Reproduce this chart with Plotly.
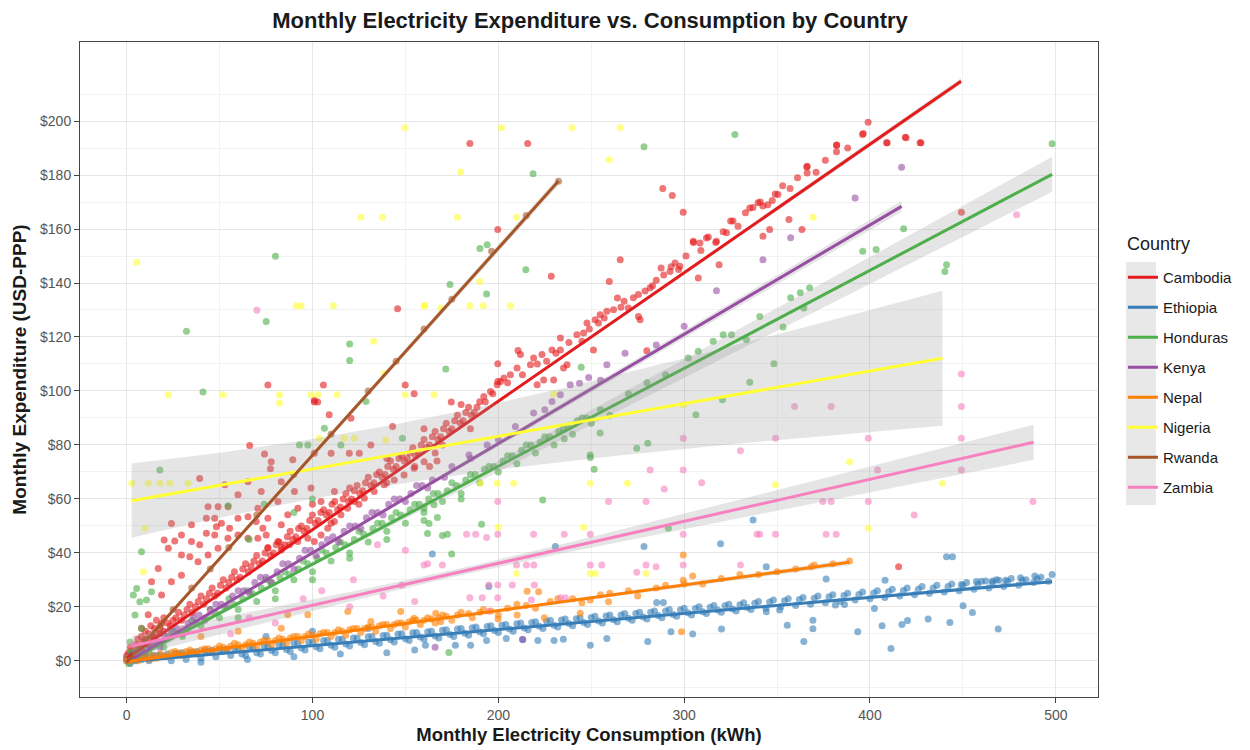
import numpy as np
import plotly.graph_objects as go

# ---------------------------------------------------------------------------
# Data: monthly consumption (kWh) vs expenditure (USD-PPP), one list per country
# ---------------------------------------------------------------------------
countries = ["Cambodia", "Ethiopia", "Honduras", "Kenya", "Nepal", "Nigeria", "Rwanda", "Zambia"]
colors = ["#E41A1C", "#377EB8", "#4DAF4A", "#984EA3", "#FF7F00", "#FFFF33", "#A65628", "#F781BF"]

cambodia_pts = [
    (0, 2), (0.5, 0.5), (1, 3), (2, 1), (2, 5), (3, 4), (4, 2), (5, 6), (5, 3), (6, 8), (7, 5), (8, 4), (8, 9),
    (9, 7), (10, 6), (10, 11), (11, 8), (12, 10), (12, 6), (13, 13), (14, 9), (15, 8), (15, 12), (16, 15),
    (17, 10), (18, 12), (19, 14), (20, 11), (20, 16),
    (22, 14), (25, 15), (28, 18), (31, 17), (34, 21), (37, 20), (40, 24), (43, 23), (46, 27), (49, 25), (52, 30),
    (55, 29), (58, 33), (61, 31), (64, 36), (67, 35), (70, 39), (73, 37), (76, 42), (79, 40), (82, 44), (85, 43),
    (88, 48), (91, 46), (94, 50), (97, 49), (100, 54), (103, 52), (106, 56), (109, 55), (112, 59), (115, 57),
    (118, 62), (121, 60), (124, 65), (127, 63), (130, 68), (133, 66), (136, 70), (139, 69), (142, 74), (145, 72),
    (148, 76), (151, 75), (154, 79), (157, 77), (160, 82), (163, 80), (166, 85), (169, 83), (172, 88), (175, 86),
    (178, 91), (181, 89), (184, 94), (187, 92), (190, 96),
    (6, 5), (10, 7), (14, 9), (18, 10), (23.5, 13), (26.5, 16), (29.5, 15), (32.5, 19), (35.5, 18), (38.5, 22),
    (41.5, 21), (44.5, 25), (47.5, 24), (50.5, 28), (53.5, 27), (56.5, 31), (59.5, 30), (62.5, 34), (65.5, 33),
    (68.5, 37), (71.5, 36), (74.5, 40), (77.5, 39), (80.5, 43), (83.5, 42), (86.5, 46), (89.5, 45), (92.5, 49),
    (95.5, 48), (98.5, 52), (101.5, 51), (104.5, 55), (107.5, 54), (110.5, 58), (113.5, 56), (116.5, 60),
    (119.5, 59), (122.5, 63), (125.5, 62), (128.5, 66), (131.5, 65), (134.5, 69), (137.5, 68), (140.5, 72),
    (143.5, 71), (146.5, 75), (149.5, 74), (152.5, 77), (155.5, 76), (158.5, 80), (161.5, 79), (164.5, 83),
    (167.5, 82), (170.5, 86), (173.5, 85), (176.5, 89), (179.5, 88), (182.5, 92), (185.5, 91), (188.5, 94),
    (193, 96), (197, 99), (205, 103), (213, 106), (221, 110), (226, 111), (231, 114), (238, 118), (249, 123),
    (257, 127), (266, 131), (279, 137), (283, 139),
    (110, 51), (125, 58), (140, 66), (155, 72), (170, 80), (185, 86), (100, 58), (120, 64), (140, 75), (160, 86),
    (180, 95),
    (192.2, 97.9), (195.8, 99.8), (199.4, 102.3), (201.2, 103.5), (203, 104.8), (206.5, 106), (210.1, 108.5),
    (217.3, 109.7), (211.9, 113.5), (219, 112.2), (223.5, 113.5), (228.9, 115.2), (233.4, 115.2), (233.4, 119.6),
    (242.3, 120.8), (245.9, 121.5), (245, 118.4), (247.7, 125.2), (252.1, 126.4), (253.9, 125.2), (254.8, 128.2),
    (258.4, 129.5), (262, 130.1), (264.1, 134.4), (267.7, 133.2), (270, 130.7), (272.7, 134.5), (275.4, 135.7),
    (275.4, 127.6), (276.3, 126.4), (281.7, 138.2), (237, 109.7), (235.1, 108.5), (220.9, 102.3), (224.4, 104.1),
    (229.8, 104.1), (210.6, 115), (199.7, 110.1), (199.7, 103.5), (251.2, 115.2), (279.9, 114.9),
    (285, 141), (289, 143), (293, 146), (297, 145), (301, 150), (305, 155), (309, 152), (313, 157), (317, 155),
    (321, 159), (325, 163), (329, 161), (333, 166), (337, 168), (341, 170), (345, 169), (349, 173), (353, 176),
    (357, 175), (361, 179), (366, 183), (371, 181), (376, 185.5), (382, 191), (382, 188.6), (388, 190), (396, 195),
    (399, 199.6), (409, 192), (419, 194), (427, 192),
    (304.9, 155.5), (308.5, 154.8), (312, 156.7), (317.4, 155.5), (322.8, 158.6), (326.3, 163), (335.3, 167.8),
    (339.8, 169.7), (342.4, 168.5), (347.4, 170.6), (350.5, 172.8), (356.4, 163.5), (346, 159.8), (342.4, 157.3),
    (363.4, 159.8), (366.2, 183.3), (366.2, 180.8),
    (20.2, 44.8), (25.9, 44.4), (34.9, 44.2), (29.5, 39.2), (34, 38.6), (39.3, 43), (42.9, 47.3), (48.3, 49.7),
    (51, 51), (55.4, 49.1), (59.9, 52.8), (65.3, 53.4), (69.7, 51.6), (73.3, 49.1), (54.5, 45.4), (59.9, 46.6),
    (65.3, 45.4), (70.6, 45.4), (75.1, 46.6), (76, 41.7), (81.4, 44.2), (83.2, 41.1), (87.6, 43), (92.1, 44.2),
    (97.5, 45.4), (101, 44.2), (104.6, 46.6), (108.2, 49.1), (111.8, 51.6), (115.3, 54.1), (118.9, 56.5),
    (122.5, 59), (127.9, 60.2), (133.2, 62.7), (138.6, 65.2), (144, 67), (149.3, 68.9), (154.7, 71.4),
    (160.1, 73.8),
    (72.4, 62.7), (83.2, 66.4), (90.3, 62.7), (99.2, 64), (104.6, 59), (111.8, 62.7), (86.7, 54.1), (92.1, 56.5),
    (81.4, 59), (70.6, 56.5), (76, 52.8), (83.2, 50.4), (59.9, 61.5), (65.3, 66.4), (52.8, 65.2), (47.4, 46.6),
    (34.9, 50.4), (29.5, 46.6), (22.4, 41.7), (17, 34.2), (13.4, 29.3), (24.1, 29.3), (29.5, 31.7), (18.8, 24.4),
    (11.6, 17.1), (8, 12.1), (38.4, 36.7), (43.8, 39.2), (49.2, 41.7),
    (39.3, 67.6), (24.1, 50.9), (43.8, 57.1), (49.2, 57.1), (54.6, 57.1), (42.9, 52.8), (47.4, 52.8),
    (66.2, 79.8), (74.2, 76.6), (77.8, 73.8), (77.4, 71.2), (89.4, 74.5), (101, 76.9), (110, 76.9), (119.8, 76.9),
    (125.2, 76.9), (131.4, 80), (109, 91.2), (120.7, 89.9), (143.1, 86.8), (101, 95.9), (102.8, 95.9),
    (101, 96.6), (76, 102.2), (105.9, 102.2), (149.9, 102.2), (154.7, 99), (145.8, 130.5), (174.7, 95.9),
    (163, 72), (166, 77), (167, 74),
    (184.7, 191.7), (215.8, 191.7), (288.5, 175), (293.6, 172.4), (299.5, 166.2), (199.7, 159.8), (265.6, 148.6),
    (287.6, 145.6), (292.4, 144.3), (295.1, 147.4), (297.7, 146.2), (307.6, 141.9), (318.8, 146.8),
    (228.5, 142.5), (259.7, 140.6), (409.2, 192), (419.4, 193.8), (427.4, 192), (396.4, 195.4), (382.1, 191.1),
    (449.2, 166.2), (415.4, 34.9),
]

ethiopia_pts = [
    (0, 0), (1, 1), (2, -1), (3, 0.5), (4, 2), (5, 0), (6, 1), (8, 0.5), (10, 1.5), (12, 0), (14, 1), (16, 2),
    (20, 1.5), (24, 0), (28, 2.5), (32, 0.5), (36, 3), (40, 1), (44, 3.5), (48, 1.5), (52, 4), (56, 2), (60, 4.5),
    (64, 2), (68, 5), (72, 2.5), (76, 5.5), (80, 3), (84, 6), (88, 3.5), (92, 6.5), (96, 4), (100, 7), (104, 4.5),
    (108, 7.5), (112, 5), (116, 8), (120, 5.5), (124, 8.5), (128, 6), (132, 9), (136, 6.5), (140, 9.5), (144, 7),
    (148, 10), (152, 7.5), (156, 10.5), (160, 8), (164, 11), (168, 8.5), (172, 11.5), (176, 9), (180, 12),
    (184, 9.5), (188, 12.5), (192, 10), (196, 13), (200, 10.5), (204, 13.5), (208, 11), (212, 14), (216, 11.5),
    (220, 14.5), (224, 12), (228, 15), (232, 12.5), (236, 15.5), (240, 13), (244, 16), (248, 13.5), (252, 16.5),
    (256, 14), (260, 17), (264, 14.5), (268, 17.5), (272, 15), (276, 18), (280, 15.5), (284, 18.5), (288, 16),
    (292, 19), (296, 16.5), (300, 19.5), (304, 17), (308, 20), (312, 17.5), (316, 20.5), (320, 18), (324, 21),
    (328, 18.5), (332, 21.5), (336, 19), (340, 22), (344, 19.5), (348, 22.5), (352, 20), (356, 23), (360, 20.5),
    (364, 23.5), (368, 21), (372, 24), (376, 21.5), (380, 24.5), (384, 22), (388, 25), (392, 22.5), (396, 25.5),
    (400, 23), (404, 26), (408, 23.5), (412, 26.5), (416, 24), (420, 27), (424, 24.5), (428, 27.5), (432, 25),
    (436, 28), (440, 25.5), (444, 28.5), (448, 26), (452, 29), (456, 26.5), (460, 29.5), (464, 27), (468, 30),
    (472, 27.5), (476, 30.5), (480, 28), (484, 30), (488, 29), (492, 31), (496, 29.5),
    (62, 2.5), (70, 3), (78, 3.8), (86, 4.2), (94, 4.8), (102, 5.2), (110, 5.8), (118, 6.2), (126, 6.8),
    (134, 7.2), (142, 7.8), (150, 8.2), (158, 8.8), (166, 9.2), (174, 9.8), (182, 10.2), (190, 10.8),
    (198, 11.2), (206, 11.8), (214, 12.2), (222, 12.8), (230, 13.2), (238, 13.8), (246, 14.2), (254, 14.8),
    (262, 15.2), (270, 15.8), (278, 16.2), (286, 16.8), (294, 17.2), (302, 17.8), (310, 18.2), (318, 18.8),
    (326, 19.2), (334, 19.8),
    (2, 1.3), (6, 1.6), (10, 1.8), (14, 2), (18, 2.3), (22, 2.5), (26, 2.7), (30, 3), (34, 3.2), (38, 3.5),
    (42, 3.7), (46, 3.9), (50, 4.2), (54, 4.4), (58, 4.7), (66, 5.1), (74, 5.6), (82, 6.1), (90, 6.6), (98, 7),
    (106, 7.5), (114, 8), (122, 8.5), (130, 8.9), (138, 9.4), (146, 9.9), (154, 10.4), (162, 10.8), (170, 11.3),
    (178, 11.8), (186, 12.3), (194, 12.7), (202, 13.2), (210, 13.7), (218, 14.2), (226, 14.6), (234, 15.1),
    (242, 15.6), (250, 16.1), (258, 16.6), (266, 17), (274, 17.5), (282, 18), (290, 18.5), (298, 18.9),
    (306, 19.4), (314, 19.9), (322, 20.4), (330, 20.8), (338, 21.3), (346, 21.8), (354, 22.3), (362, 22.7),
    (370, 23.2), (378, 23.7), (386, 24.2), (394, 24.6), (402, 25.1), (410, 25.6), (418, 26.1), (426, 26.5),
    (434, 27), (442, 27.5), (450, 28), (458, 28.4), (466, 28.9), (474, 29.4), (482, 29.9), (490, 30.4),
    (230.7, 42.4), (278.4, 42.4), (319.6, 43.4), (337.1, 52.2), (164.5, 39.6), (344.2, 34.9), (441.2, 38.6),
    (444.4, 38.6), (376.4, 30.3), (408.1, 29.9), (194.9, 27.5), (285.2, 21.6), (288.8, 21.6), (481, 30.8),
    (488.7, 31.4), (498, 32), (457.3, 29.4), (462.3, 29.6), (465.9, 29.6), (469.4, 29.9), (473, 29.9),
    (449.2, 28.3),
    (185.1, 5.8), (249.5, 5.8), (280.4, 7.2), (258.4, 8.3), (230, 7.5), (235, 8), (221.3, 7.5), (213.2, 7.8),
    (204.3, 8.3), (193.7, 7.5), (176.9, 5.8), (160.8, 5.8), (292.9, 10.8), (304.6, 9.9), (320.1, 11.8),
    (344.2, 18.2), (351.4, 18.8), (355.5, 13.2), (369.3, 15), (369.3, 11.9), (364.4, 7.2), (381.4, 20.7),
    (386.3, 20.9), (393.4, 10.8), (402.4, 19.4), (406.5, 13), (411.3, 4.6), (417.2, 13.5), (420.2, 14.9),
    (431.3, 15.5), (443, 14.2), (450.1, 20.4), (455.1, 17.9), (469, 11.8), (40, -0.5), (65, 0.5), (90, 1.5),
    (115, 2.5), (140, 3), (155, 4), (130, 12), (100, 11), (75, 9),
]

honduras_pts = [
    (0, 1), (1, -1), (2, 3), (3, 0), (3.6, 24.4), (4.5, 17), (7.1, 21.9), (8, 12), (1.8, 7), (2.7, 3.3),
    (5.4, 26.8), (10.7, 22.5), (13.4, 25.6), (5, 2), (6, 4), (8, 2), (10, 5), (12, 3),
    (15, 7), (20, 5), (25, 11), (30, 9), (35, 15), (40, 13), (45, 19), (50, 16), (55, 23), (60, 19), (65, 26),
    (70, 22), (75, 30), (80, 26), (85, 33), (90, 30), (95, 37), (100, 33), (105, 41), (110, 37), (115, 44),
    (120, 40), (125, 48), (130, 44), (135, 51), (140, 48), (145, 55), (150, 51), (155, 58), (160, 55), (165, 62),
    (170, 59), (175, 66), (180, 62), (185, 69), (190, 66), (195, 72), (200, 70), (205, 76), (210, 73), (215, 80),
    (220, 77), (225, 83), (230, 80), (235, 86), (240, 84), (245, 90), (250, 88), (255, 93), (260, 91), (270, 99),
    (280, 103), (290, 106),
    (17.5, 7), (22.5, 9), (27.5, 10), (32.5, 12), (37.5, 14), (42.5, 16), (47.5, 18), (52.5, 20), (57.5, 21),
    (62.5, 23), (67.5, 25), (72.5, 27), (77.5, 29), (82.5, 31), (87.5, 32), (92.5, 34), (97.5, 36), (102.5, 38),
    (107.5, 40), (112.5, 42), (117.5, 43), (122.5, 45), (127.5, 47), (132.5, 49), (137.5, 51), (142.5, 53),
    (147.5, 54), (152.5, 56), (157.5, 58), (162.5, 60), (167.5, 62), (172.5, 63), (177.5, 65), (182.5, 67),
    (187.5, 69), (192.5, 71), (197.5, 72), (202.5, 74), (207.5, 76), (212.5, 78), (217.5, 80), (222.5, 81),
    (227.5, 83), (232.5, 85), (237.5, 87), (242.5, 89), (247.5, 90),
    (60, 16), (80, 23), (100, 30), (120, 38), (140, 45), (160, 52), (180, 60), (74, 58), (90, 55), (100, 60),
    (66, 45),
    (302.2, 112.2), (307.6, 114.7), (315.6, 118.4), (321, 120.8), (325.5, 120.8), (333.5, 119), (340.7, 127.6),
    (80.1, 149.9), (75.1, 125.7), (32.2, 122.1), (120, 117.4), (120, 111.3), (41.1, 99.6), (106.4, 86.2),
    (128.8, 96.1), (93, 80), (97.5, 80), (115.3, 80), (148.4, 82.5), (17.9, 70.7), (54.6, 57.5), (8, 40.4),
    (327.3, 195), (278.4, 190.5), (218.7, 180.5), (190.1, 152.8), (194, 154.2), (174, 139.4), (193.7, 135.9),
    (214.8, 144.9), (244.6, 108.8), (335.3, 103.2), (171.7, 108.1), (498, 191.6), (441.2, 146.8), (440.3, 144.3),
    (418.1, 160.1), (396.1, 151.8), (403.3, 152.4), (367.5, 138.2), (362.5, 136.4), (357.3, 134.5),
    (364.4, 130.7), (353.2, 123.7), (348.3, 110.1), (320.6, 96.7), (306.3, 91.2), (280.4, 80.6), (274.5, 78.8),
    (254.8, 84.4), (235.5, 82.3), (249.5, 76.3), (249.5, 75.3), (251.6, 71), (223.9, 59.6), (191, 50.6),
    (291.5, 49.1), (174.9, 39.6), (173.4, 3.1),
    (160, 56.5), (165.4, 57.8), (162.7, 50.9), (167.2, 53.1), (161.9, 47.2), (169.9, 46.4), (172.6, 46.9),
]

kenya_pts = [
    (0, 1), (1, 0), (2, 2), (3, 1), (4, 3), (6, 2), (8, 4), (10, 3),
    (12, 6), (18, 5), (24, 11), (30, 10), (36, 16), (42, 15), (48, 21), (54, 20), (60, 26), (66, 25), (72, 31),
    (78, 29), (84, 36), (90, 34), (96, 41), (102, 39), (108, 45), (114, 44), (120, 50), (126, 49), (132, 55),
    (138, 54), (144, 60), (150, 59), (156, 65), (162, 64),
    (15, 7), (21, 9), (27, 12), (33, 14), (39, 17), (45, 19), (51, 21), (57, 24), (63, 26), (69, 29), (75, 31),
    (81, 33), (87, 36), (93, 38), (99, 41), (105, 43), (111, 46), (117, 48), (123, 50), (129, 53), (135, 55),
    (141, 58), (147, 60), (153, 62), (159, 65), (175, 72), (185, 75), (200, 82), (225, 93), (255, 104),
    (285, 117), (300, 124),
    (164.5, 67), (171, 68), (184.2, 76.3), (194, 80), (209.2, 86.8), (219, 91.8), (228.9, 96.1), (233.4, 98.6),
    (238.7, 102.3), (243.7, 102.9), (248.6, 105), (258.4, 109.7), (268.2, 114), (317.4, 137.1), (342.4, 148.6),
    (357.3, 156.8), (392, 171.5), (417, 182.9), (166, 5), (213, 8),
]

nepal_pts = [
    (0, 0), (1, 1), (2, 0), (3, 1), (4, 0.5), (5, 1.5), (6, 0), (8, 1), (10, 1.5), (12, 0.5), (14, 2), (16, 1),
    (18, 2.5), (22, 1.5), (26, 3.5), (30, 2), (34, 4), (38, 2.5), (42, 4.5), (46, 3), (50, 5.5), (54, 4),
    (58, 6.5), (62, 4.5), (66, 7), (70, 5), (74, 7.5), (78, 6), (82, 8.5), (86, 6.5), (90, 9), (94, 7.5),
    (98, 10), (102, 8), (106, 10.5), (110, 9), (114, 11.5), (118, 9.5), (122, 12), (126, 10.5), (130, 12.5),
    (134, 11), (138, 13.5), (142, 12), (146, 14), (150, 12.5), (154, 15), (158, 13.5), (162, 16), (166, 14),
    (170, 17), (175, 15), (180, 18), (186, 16), (192, 19), (200, 17), (210, 21), (220, 19.5), (232, 23),
    (245, 21.5), (260, 25), (275, 24), (290, 28), (310, 28.5), (330, 32), (350, 33), (370, 35.5), (389, 37),
    (20, 2), (24, 3), (28, 3), (32, 3.5), (36, 3.5), (40, 4), (44, 4.5), (48, 4.5), (52, 5), (56, 5.5), (60, 6),
    (64, 6), (68, 6.5), (72, 7), (76, 7.5), (80, 7.5), (84, 8), (88, 8.5), (92, 9), (96, 9), (100, 9.5),
    (104, 10), (108, 10.5), (112, 10.5), (116, 11), (120, 11.5), (124, 12), (128, 12), (132, 12.5), (136, 13),
    (140, 13.5), (144, 13.5), (148, 14), (152, 14.5), (156, 15), (160, 15), (164, 15.5), (168, 16), (172, 16.5),
    (178, 17), (184, 17.5), (190, 18), (196, 18.5), (205, 19.5), (215, 20.5), (228, 22), (240, 23), (255, 24.5),
    (270, 26), (285, 27), (300, 28.5), (320, 30.5), (340, 32), (360, 34), (380, 36),
    (299.5, 39.2), (299.5, 29.9), (304.6, 31.4), (215.5, 25.8), (221.7, 25.6), (249.5, 22.5), (259.3, 21.9),
    (166.3, 17.6), (169, 14.5), (199.9, 15.5), (210.1, 17), (224.8, 16), (244.1, 17.6), (298.6, 10.8),
    (368.4, 34.9), (119, 18.3), (131.4, 14.6), (147.5, 18.3), (154.7, 15.8), (97.5, 17.1), (83.2, 12.1),
    (86.7, 17.1), (40, 9), (60, 11),
]

nigeria_pts = [
    (149.8, 197.5), (126, 164.4), (137.7, 164.4), (5.4, 147.7), (91.2, 131.6), (93.9, 131.6), (111.2, 131.6),
    (160, 131.6), (132.9, 118.4), (138.6, 106.6), (22.4, 98.6), (51.9, 98.6), (82.3, 98.6), (99.2, 98.6),
    (102.8, 98.6), (113.2, 98.6), (149.9, 98.6), (82.3, 95.5), (103.7, 82.5), (117.1, 82.5), (122.5, 82.5),
    (139.5, 81.8), (2.7, 65.8), (11.6, 65.8), (17.9, 65.8), (23.2, 65.8), (33.1, 65.8), (9.8, 49.1), (9, 33),
    (201.7, 197.5), (239.6, 197.5), (265.6, 197.5), (259.7, 185.7), (179.7, 181.1), (178, 164.4),
    (209.8, 164.4), (190, 140.6), (184.7, 131.6), (191.9, 131.6), (206.5, 131.6), (160.4, 131.6), (169, 130.7),
    (165.4, 98.6), (229.8, 98.9), (299.5, 94.8), (249.5, 65.8), (269.5, 65.8), (190.5, 65.8), (199.4, 65.8),
    (208.3, 65.8), (199.9, 49.5), (245.9, 49.5), (209.8, 32.4), (249.5, 32.4), (252.1, 32.4), (279.5, 32.4),
    (389, 73.8), (349.2, 65.2), (439, 65.8), (399.1, 49.1), (369.3, 164.4),
]

rwanda_pts = [
    (3, 2), (10, 8), (18, 13), (25, 19), (35, 27), (45, 34), (55, 42), (70, 54), (90, 69), (110, 84), (130, 100),
    (145, 111), (160, 123), (175, 134), (196.4, 151.8), (215, 165), (232.4, 177.7),
]

zambia_pts = [
    (70.1, 129.9), (299.5, 82.5), (330.3, 77.8), (281.7, 70.7), (299.5, 70.7), (309.4, 66), (289.3, 63.7),
    (199.7, 59), (259.3, 59), (279.5, 59), (182.9, 46.9), (187.8, 46.9), (193.7, 45.7), (199.7, 46.9), (219, 46.9),
    (235.5, 46.9), (249.5, 46.9), (299.5, 46.9), (339.2, 46.9), (160, 35.5), (169.9, 35.5), (209.8, 35.5),
    (215.1, 35.5), (219.1, 35.5), (249.5, 35.5), (255.7, 35.5), (279.5, 35.5), (284.9, 34.9), (299.5, 35.5),
    (330.3, 35.5), (274.5, 32.8), (194.9, 28.1), (199.7, 28.1), (207.5, 28.1), (219.4, 28.1), (184.7, 23.4),
    (191.3, 23.4), (199.7, 23.4), (217.8, 22.5), (233.4, 23.4), (236.1, 23.4), (194.9, 18.4), (359.4, 94.2),
    (379.1, 94.2), (449.2, 94.2), (349.2, 82.5), (399.1, 82.5), (449.2, 82.5), (404.1, 70.7), (449.2, 70.7),
    (374.6, 59), (379.1, 59), (399.1, 59), (487.7, 59), (423.8, 54), (340.7, 46.9), (349.2, 46.9), (376.4, 46.9),
    (381.8, 46.9), (478.9, 165.3), (449.2, 106.3),
    (3, 6), (56, 10), (80, 14), (95, 23), (120, 20), (138, 24), (148, 28), (155, 22), (150, 41), (162, 36),
    (135, 43), (122, 30), (45, 18), (30, 12), (66, 16), (105, 26),
]

points = [cambodia_pts, ethiopia_pts, honduras_pts, kenya_pts, nepal_pts, nigeria_pts, rwanda_pts, zambia_pts]

# Linear fits per country: intercept, slope and the x-span each fit covers
fit_intercept = [1.0, -0.3, -0.5, -0.5, -0.3, 59.0, -0.5, 5.0]
fit_slope = [0.476, 0.0595, 0.363, 0.405, 0.0946, 0.121, 0.767, 0.1557]
fit_xmin = [0, 0, 0, 0, 0, 2.7, 0, 3]
fit_xmax = [449, 498, 498, 417, 389, 439, 232.4, 488]
# 95% confidence band: x where it is narrowest, half-width there, half-width at the right end
band_xbar = [100, 180, 90, 80, 60, 120, 40, 180]
band_hw_min = [0.3, 0.15, 0.6, 0.5, 0.2, 11.0, 0.6, 1.3]
band_hw_end = [1.2, 0.5, 6.5, 2.0, 1.0, 25.0, 1.5, 6.5]

y_ticks = [0, 20, 40, 60, 80, 100, 120, 140, 160, 180, 200]
x_ticks = [0, 100, 200, 300, 400, 500]

FONT = "Liberation Sans, Arial, sans-serif"

fig = go.Figure()

# points layer
for name, col, pts in zip(countries, colors, points):
    xs, ys = zip(*pts)
    fig.add_trace(go.Scatter(
        x=xs, y=ys, mode="markers", name=name, legendgroup=name, showlegend=False,
        marker=dict(color=col, size=7, opacity=0.6, line=dict(width=0)),
    ))

# smoother layer: band then line, group by group
for i, (name, col) in enumerate(zip(countries, colors)):
    xs = np.linspace(fit_xmin[i], fit_xmax[i], 80)
    fit = fit_intercept[i] + fit_slope[i] * xs
    b = (band_hw_end[i] ** 2 - band_hw_min[i] ** 2) / (fit_xmax[i] - band_xbar[i]) ** 2
    hw = np.sqrt(band_hw_min[i] ** 2 + b * (xs - band_xbar[i]) ** 2)
    fig.add_trace(go.Scatter(
        x=np.concatenate([xs, xs[::-1]]),
        y=np.concatenate([fit + hw, (fit - hw)[::-1]]),
        mode="lines", fill="toself", fillcolor="rgba(153,153,153,0.25)",
        line=dict(width=0), hoverinfo="skip", legendgroup=name, showlegend=False,
    ))
    fig.add_trace(go.Scatter(
        x=[fit_xmin[i], fit_xmax[i]],
        y=[fit_intercept[i] + fit_slope[i] * fit_xmin[i], fit_intercept[i] + fit_slope[i] * fit_xmax[i]],
        mode="lines", name=name, legendgroup=name, showlegend=True,
        line=dict(color=col, width=3),
    ))

# grey key column behind the legend symbols
fig.add_shape(type="rect", xref="paper", yref="paper",
              x0=(1128 - 80) / 1020, x1=(1158 - 80) / 1020,
              y0=(697 - 505) / 655, y1=(697 - 262) / 655,
              fillcolor="#E8E8E8", line=dict(width=0), layer="below")

axis_common = dict(
    showline=True, linecolor="#444444", linewidth=1, mirror=True,
    ticks="outside", ticklen=5, tickwidth=1, tickcolor="#444444",
    gridcolor="#E6E6E6", gridwidth=1, zeroline=False,
    tickfont=dict(family=FONT, size=14, color="#555555"),
)

fig.update_layout(
    width=1250, height=750,
    margin=dict(l=80, r=150, t=42, b=53),
    paper_bgcolor="white", plot_bgcolor="white",
    font=dict(family=FONT, color="#1A1A1A"),
    title=dict(text="<b>Monthly Electricity Expenditure vs. Consumption by Country</b>",
               x=590 / 1250, xanchor="center", y=1 - 20 / 750, yanchor="middle", yref="container",
               font=dict(family=FONT, size=22, color="#1A1A1A")),
    xaxis=dict(
        range=[-25.1, 522.7], tickmode="array", tickvals=x_ticks,
        ticktext=[str(v) for v in x_ticks],
        minor=dict(tickmode="array", tickvals=[50, 150, 250, 350, 450],
                   showgrid=True, gridcolor="#F2F2F2", gridwidth=0.7, ticks=""),
        title=dict(text="<b>Monthly Electricity Consumption (kWh)</b>", standoff=6,
                   font=dict(family=FONT, size=18.5, color="#1A1A1A")),
        automargin=False, **axis_common,
    ),
    yaxis=dict(
        range=[-13.4, 229.3], tickmode="array", tickvals=y_ticks,
        ticktext=["$" + str(v) for v in y_ticks],
        minor=dict(tickmode="array", tickvals=[-10, 10, 30, 50, 70, 90, 110, 130, 150, 170, 190, 210],
                   showgrid=True, gridcolor="#F2F2F2", gridwidth=0.7, ticks=""),
        title=dict(text="<b>Monthly Expenditure (USD-PPP)</b>", standoff=8,
                   font=dict(family=FONT, size=19, color="#1A1A1A")),
        automargin=False, **axis_common,
    ),
    legend=dict(
        x=(1125 - 80) / 1020, xanchor="left", y=(697 - 261) / 655, yanchor="top",
        font=dict(family=FONT, size=15, color="#1A1A1A"),
        bgcolor="rgba(0,0,0,0)", tracegroupgap=7.5, traceorder="grouped",
    ),
    annotations=[dict(
        text="Country", xref="paper", yref="paper", x=(1127 - 80) / 1020, y=(697 - 244) / 655,
        xanchor="left", yanchor="middle", showarrow=False,
        font=dict(family=FONT, size=18, color="#1A1A1A"),
    )],
    showlegend=True,
)

fig.write_html("out.html")
